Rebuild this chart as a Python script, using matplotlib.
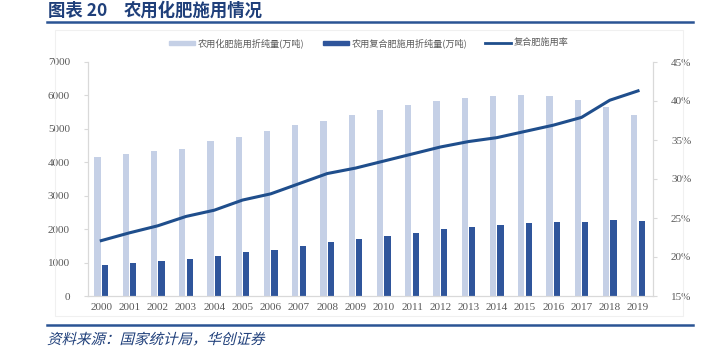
import matplotlib
matplotlib.use("Agg")
import matplotlib.pyplot as plt
import numpy as np
from matplotlib.patches import Rectangle, PathPatch
from matplotlib.lines import Line2D
from matplotlib.textpath import TextPath
from matplotlib.font_manager import FontProperties
from matplotlib.transforms import Affine2D, IdentityTransform

plt.rcParams['font.family'] = ['Noto Sans CJK SC', 'DejaVu Sans']

years = [str(y) for y in range(2000, 2020)]
total_use = [4146.4, 4253.8, 4339.4, 4411.6, 4636.6, 4766.2, 4927.7, 5107.8, 5239.0, 5404.4,
             5561.7, 5704.2, 5838.8, 5911.9, 5995.9, 6022.6, 5984.1, 5859.4, 5653.4, 5403.6]
compound_use = [917.9, 983.7, 1040.4, 1109.7, 1204.0, 1303.2, 1385.9, 1503.0, 1608.6, 1698.7,
                1798.5, 1895.1, 1990.0, 2057.5, 2115.8, 2175.7, 2207.1, 2220.3, 2268.8, 2230.7]
compound_rate = [22.1, 23.1, 24.0, 25.2, 26.0, 27.3, 28.1, 29.4, 30.7, 31.4,
                 32.3, 33.2, 34.1, 34.8, 35.3, 36.1, 36.9, 37.9, 40.1, 41.3]

labels = ['农用化肥施用折纯量(万吨)', '农用复合肥施用折纯量(万吨)', '复合肥施用率']

light = '#C5D0E6'
dark = '#2F559B'
navy = '#1F4E8C'
grey = '#595959'
serif = ['Liberation Serif', 'DejaVu Serif']

fig = plt.figure(figsize=(7.1, 3.6), dpi=100)
W, H = 710, 360

# faint chart frame
fig.add_artist(Rectangle((55 / W, 1 - 316 / H), 628 / W, 286 / H, transform=fig.transFigure,
                         fill=False, edgecolor='#F0F0F0', lw=0.8))

ax = fig.add_axes([88 / W, 1 - 296 / H, (653 - 88) / W, (296 - 62) / H])
x = np.arange(len(years))
bw = 0.22
ax.bar(x - 0.135, total_use, width=bw, color=light, label=labels[0], zorder=2)
ax.bar(x + 0.135, compound_use, width=bw, color=dark, label=labels[1], zorder=2)
ax.set_ylim(0, 7000)
ax.set_yticks(range(0, 7001, 1000))
ax.set_xlim(-0.47, len(years) - 0.47)
ax.set_xticks(x)
ax.set_xticklabels(years)

ax2 = ax.twinx()
ax2.plot(x, compound_rate, color=navy, lw=2.2, label=labels[2], zorder=3)
ax2.set_ylim(15, 45)
ax2.set_yticks(range(15, 46, 5))
ax2.set_yticklabels([f'{v}%' for v in range(15, 46, 5)])

for a in (ax, ax2):
    for s in a.spines.values():
        s.set_color('#D9D9D9')
        s.set_linewidth(0.8)
    a.spines['top'].set_visible(False)
    a.tick_params(colors='#D9D9D9', labelcolor=grey, labelsize=8, length=3, width=0.8)
    for t in a.get_xticklabels() + a.get_yticklabels():
        t.set_family(serif)
ax.tick_params(axis='x', length=0, pad=5)
ax.tick_params(axis='y', pad=10)
ax2.tick_params(axis='y', pad=10)

handles = [Rectangle((0, 0), 1, 1, color=light), Rectangle((0, 0), 1, 1, color=dark),
           Line2D([], [], color=navy, lw=2)]
fig.legend(handles, labels, loc='center', bbox_to_anchor=(369 / W, 1 - 43 / H), ncol=3,
           frameon=False, fontsize=6.6, handlelength=2.8, handleheight=0.35, columnspacing=2.0,
           handletextpad=0.3, labelcolor=grey)

# title and source
fig.text(48 / W, 1 - 11 / H, '图表 20', fontsize=12.5, fontweight='bold',
         color='#1F3F7A', va='center', ha='left')
fig.text(124 / W, 1 - 11 / H, '农用化肥施用情况', fontsize=12.5, fontweight='bold',
         color='#1F3F7A', va='center', ha='left')
fig.add_artist(Line2D([47 / W, 693 / W], [1 - 22 / H, 1 - 22 / H], color='#2A5494', lw=1.8,
                      transform=fig.transFigure))
fig.add_artist(Line2D([47 / W, 693 / W], [1 - 325 / H, 1 - 325 / H], color='#2A5494', lw=1.8,
                      transform=fig.transFigure))

# italic source line (CJK font has no italic, so shear the glyph outlines)
src = '资料来源：国家统计局，华创证券'
tp = TextPath((0, 0), src, size=14.5, prop=FontProperties(family='Noto Sans CJK SC'))
tr = Affine2D().skew_deg(14, 0).translate(47, H - 344)
fig.add_artist(PathPatch(tr.transform_path(tp), transform=IdentityTransform(),
                         facecolor='#1F3F7A', edgecolor='none'))

fig.savefig('out.png', dpi=100)
